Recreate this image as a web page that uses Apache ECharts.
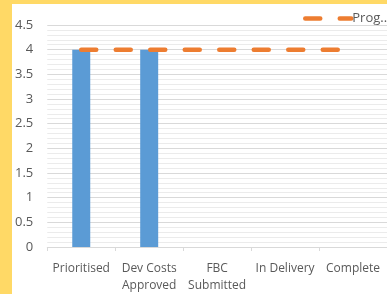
<!DOCTYPE html>
<html>
<head>
<meta charset="utf-8">
<style>
    html, body { margin: 0; padding: 0; }
    body { width: 387px; height: 294px; background: #FFD966; overflow: hidden; }
    #chart { position: absolute; left: 12px; top: 4px; width: 375px; height: 290px; background: #fff; }
</style>
</head>
<body>
<div id="chart"></div>
<script src="https://cdn.jsdelivr.net/npm/echarts@6/dist/echarts.min.js"></script>
<script>
    // data
    var categories = ['Prioritised', 'Dev Costs\nApproved', 'FBC\nSubmitted', 'In Delivery', 'Complete'];
    var barValues = [4, 4, 0, 0, 0];
    var progValues = [4, 4, 4, 4, 4];
    var yTicks = [0, 0.5, 1, 1.5, 2, 2.5, 3, 3.5, 4, 4.5];

    var myChart = echarts.init(document.getElementById('chart'));
    var labelColor = '#595959';
    var option = {
        animation: false,
        textStyle: { fontFamily: 'Open Sans' },
        legend: {
            data: ['Progress'],
            left: 286,
            top: 3,
            itemWidth: 46,
            itemHeight: 12,
            itemGap: 4,
            itemStyle: { opacity: 0 },
            lineStyle: { width: 4.5, cap: 'round', type: [15, 19.5] },
            formatter: function () { return 'Prog..'; },
            textStyle: { color: labelColor, fontSize: 13, padding: [0, 0, 0, -4] }
        },
        grid: { left: 35, right: -1, top: 21, bottom: 47, containLabel: false },
        xAxis: {
            type: 'category',
            data: categories,
            axisLine: { lineStyle: { color: '#D9D9D9' } },
            axisTick: { show: true, length: 4, lineStyle: { color: '#D9D9D9' } },
            axisLabel: { color: labelColor, fontSize: 12, margin: 13, lineHeight: 17, interval: 0 }
        },
        yAxis: {
            type: 'value',
            min: yTicks[0],
            max: yTicks[yTicks.length - 1],
            interval: 0.5,
            axisLine: { show: false },
            axisTick: { show: false },
            axisLabel: { color: labelColor, fontSize: 13, margin: 14 },
            splitLine: { lineStyle: { color: '#D9D9D9', width: 1 } },
            minorTick: { show: false, splitNumber: 5 },
            minorSplitLine: { show: true, lineStyle: { color: '#EBEBEB', width: 1 } }
        },
        series: [{
            name: 'Stage',
            type: 'bar',
            data: barValues,
            barWidth: 18,
            itemStyle: { color: '#5B9BD5' }
        }, {
            name: 'Progress',
            type: 'line',
            data: progValues,
            symbol: 'none',
            z: 3,
            lineStyle: { color: '#ED7D31', width: 4.5, type: [15, 19.5], cap: 'round' }
        }]
    };
    myChart.setOption(option);
</script>
</body>
</html>
